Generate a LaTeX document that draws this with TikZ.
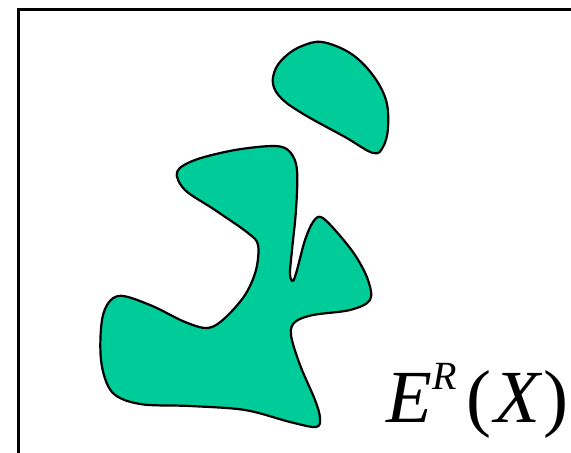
\documentclass[tikz,border=0pt]{standalone}
\usepackage{fontspec}
\setmainfont{Liberation Serif}
\definecolor{blobgreen}{RGB}{0,204,153}
\begin{document}
\begin{tikzpicture}[x=1pt,y=-1pt,
  blob/.style={fill=blobgreen,draw=black,line width=2.2pt,line join=round},
  frame/.style={draw=black,line width=3pt},
  lbl/.style={inner sep=0pt,anchor=base west,font=\fontsize{75}{80}\selectfont}]
\useasboundingbox (0,0) rectangle (571,453);
\clip (0,0) rectangle (571,453);
\draw[frame] (18,9) rectangle (620,500);
% small blob
\path[blob] plot[smooth cycle,tension=0.6] coordinates {
 (322,42) (350,53) (372,74) (386,100) (388,128) (383,147) (373,153)
 (345,137) (305,115) (282,99) (273,84) (276,68) (287,55) (302,46)};
% big blob
\path[blob] plot[smooth cycle,tension=0.55] coordinates {
 (177,172) (195,160) (235,150) (275,146) (290,152) (297,170) (296,210)
 (292,250) (290,274) (293,281) (297,270) (305,240) (313,222) (321,217)
 (335,230) (355,255) (368,280) (370,300) (350,310) (313,315) (295,322)
 (291,335) (300,365) (315,400) (320,418) (316,427) (290,422) (245,410)
 (190,406) (140,404) (112,392) (101,360) (103,315) (118,296) (150,305)
 (185,322) (208,328) (225,318) (245,295) (256,270) (258,245) (248,233)
 (215,210) (185,190)};
\node[lbl] (er) at (386,422) {\textit{E}\raisebox{0.43em}{\fontsize{40}{44}\selectfont\textit{R}}\kern0.14em(\kern0.04em\textit{X})};
\end{tikzpicture}
\end{document}
